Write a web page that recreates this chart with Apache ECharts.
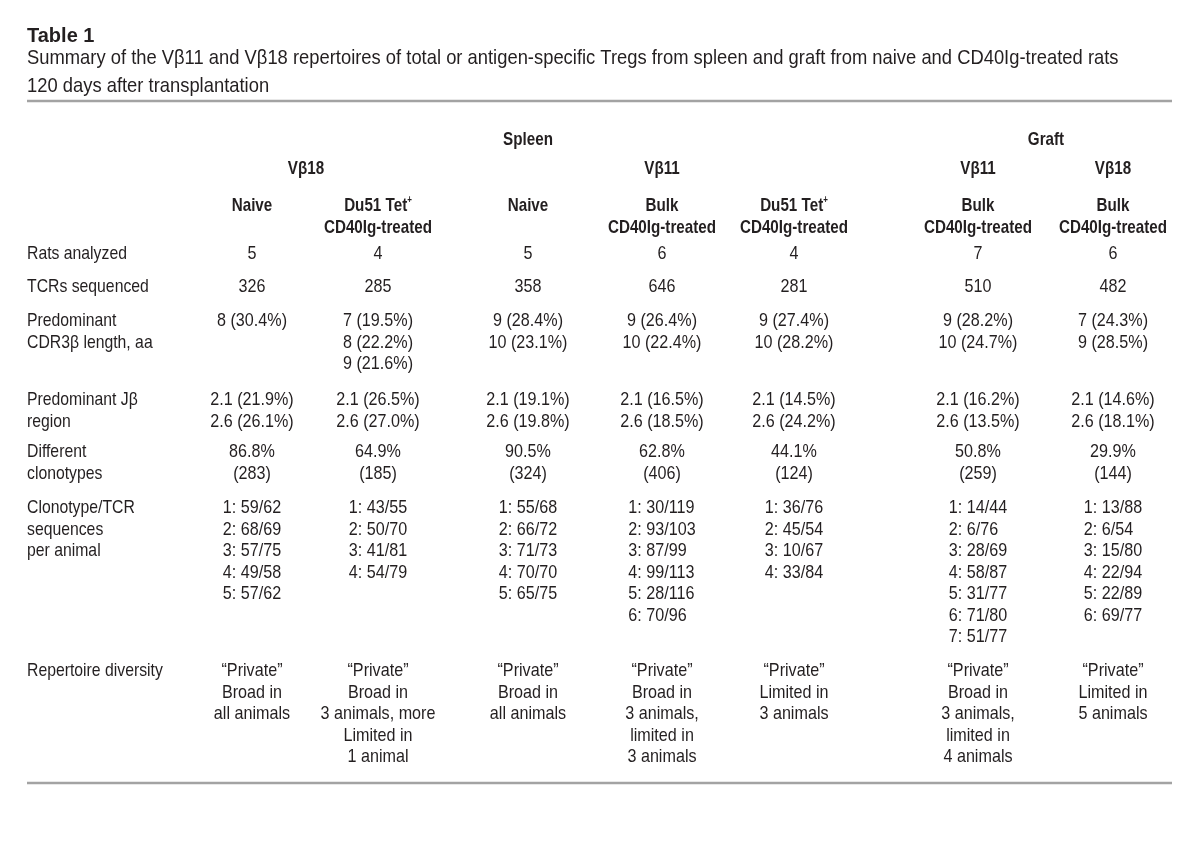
<!DOCTYPE html>
<html>
<head>
<meta charset="utf-8">
<script src="https://cdn.jsdelivr.net/npm/echarts@6/dist/echarts.min.js"></script>
<style>
html,body{margin:0;padding:0;background:#fff;}
#chart{width:1200px;height:843px;}
</style>
</head>
<body>
<div id="chart"></div>
<script>
// ---------- DATA ----------
const tableTitle = 'Table 1';
const subtitleLines = [
  'Summary of the Vβ11 and Vβ18 repertoires of total or antigen-specific Tregs from spleen and graft from naive and CD40Ig-treated rats',
  '120 days after transplantation'
];
const tissueGroups = ['Spleen', 'Graft'];
const vbetaGroups = ['Vβ18', 'Vβ11', 'Vβ11', 'Vβ18'];
const colHeaders = [
  ['Naive'],
  ['Du51 Tet+', 'CD40Ig-treated'],
  ['Naive'],
  ['Bulk', 'CD40Ig-treated'],
  ['Du51 Tet+', 'CD40Ig-treated'],
  ['Bulk', 'CD40Ig-treated'],
  ['Bulk', 'CD40Ig-treated']
];
const rowLabels = [
  ['Rats analyzed'],
  ['TCRs sequenced'],
  ['Predominant', 'CDR3β length, aa'],
  ['Predominant Jβ', 'region'],
  ['Different', 'clonotypes'],
  ['Clonotype/TCR', 'sequences', 'per animal'],
  ['Repertoire diversity']
];
const ratsAnalyzed = [5, 4, 5, 6, 4, 7, 6];
const tcrsSequenced = [326, 285, 358, 646, 281, 510, 482];
const cdr3Length = [
  ['8 (30.4%)'],
  ['7 (19.5%)', '8 (22.2%)', '9 (21.6%)'],
  ['9 (28.4%)', '10 (23.1%)'],
  ['9 (26.4%)', '10 (22.4%)'],
  ['9 (27.4%)', '10 (28.2%)'],
  ['9 (28.2%)', '10 (24.7%)'],
  ['7 (24.3%)', '9 (28.5%)']
];
const jbRegion = [
  ['2.1 (21.9%)', '2.6 (26.1%)'],
  ['2.1 (26.5%)', '2.6 (27.0%)'],
  ['2.1 (19.1%)', '2.6 (19.8%)'],
  ['2.1 (16.5%)', '2.6 (18.5%)'],
  ['2.1 (14.5%)', '2.6 (24.2%)'],
  ['2.1 (16.2%)', '2.6 (13.5%)'],
  ['2.1 (14.6%)', '2.6 (18.1%)']
];
const diffClonotypePct = ['86.8', '64.9', '90.5', '62.8', '44.1', '50.8', '29.9'];
const diffClonotypeCount = [283, 185, 324, 406, 124, 259, 144];
const clonotypePerAnimal = [
  ['1: 59/62', '2: 68/69', '3: 57/75', '4: 49/58', '5: 57/62'],
  ['1: 43/55', '2: 50/70', '3: 41/81', '4: 54/79'],
  ['1: 55/68', '2: 66/72', '3: 71/73', '4: 70/70', '5: 65/75'],
  ['1: 30/119', '2: 93/103', '3: 87/99', '4: 99/113', '5: 28/116', '6: 70/96'],
  ['1: 36/76', '2: 45/54', '3: 10/67', '4: 33/84'],
  ['1: 14/44', '2: 6/76', '3: 28/69', '4: 58/87', '5: 31/77', '6: 71/80', '7: 51/77'],
  ['1: 13/88', '2: 6/54', '3: 15/80', '4: 22/94', '5: 22/89', '6: 69/77']
];
const repertoireDiversity = [
  ['“Private”', 'Broad in', 'all animals'],
  ['“Private”', 'Broad in', '3 animals, more', 'Limited in', '1 animal'],
  ['“Private”', 'Broad in', 'all animals'],
  ['“Private”', 'Broad in', '3 animals,', 'limited in', '3 animals'],
  ['“Private”', 'Limited in', '3 animals'],
  ['“Private”', 'Broad in', '3 animals,', 'limited in', '4 animals'],
  ['“Private”', 'Limited in', '5 animals']
];

// ---------- LAYOUT (positions in page units) ----------
const LEFT = 27, RIGHT = 1172;
const colX = [252, 378, 528, 662, 794, 978, 1113];
const tissueX = [528, 1046];
const vbetaX = [306, 662, 978, 1113];
const titleY = 36, subY = [58, 86];
const ruleY = [101, 783];
const tissueY = 140, vbetaY = 169, headY = 206;
const rowY = [254, 287, 321, 400, 452, 508, 671];
const LH = 21.5;

const SANS = "'Liberation Sans', Arial, sans-serif";
const INK = '#231f20';
const styles = {
  title: { scaleX: 1, style: { font: "bold 20px " + SANS, fill: INK, align: 'left', verticalAlign: 'middle' } },
  sub:   { scaleX: 0.875, style: { font: "21px " + SANS, fill: INK, align: 'left', verticalAlign: 'middle' } },
  head:  { scaleX: 0.8, style: { font: "bold 19px " + SANS, fill: INK, align: 'center', verticalAlign: 'top', lineHeight: LH,
           rich: { sup: { font: "bold 10px " + SANS, fill: INK, verticalAlign: 'top', lineHeight: 17 } } } },
  label: { scaleX: 0.83, style: { font: "19px " + SANS, fill: INK, align: 'left', verticalAlign: 'top', lineHeight: LH } },
  cell:  { scaleX: 0.85, style: { font: "19px " + SANS, fill: INK, align: 'center', verticalAlign: 'top', lineHeight: LH } },
  list:  { scaleX: 0.85, style: { font: "19px " + SANS, fill: INK, align: 'center', verticalAlign: 'top', lineHeight: LH,
           rich: { l: { font: "19px " + SANS, fill: INK, align: 'left', lineHeight: LH } } } }
};

// ---------- BUILD TEXT ITEMS ----------
const items = [];
function add(x, yCenter, lines, kind) {
  const top = (kind === 'title' || kind === 'sub') ? yCenter : yCenter - LH / 2;
  items.push({ value: [x, top], text: lines, kind: kind });
}
add(LEFT, titleY, tableTitle, 'title');
subtitleLines.forEach((s, i) => add(LEFT, subY[i], s, 'sub'));
tissueGroups.forEach((t, i) => add(tissueX[i], tissueY, t, 'head'));
vbetaGroups.forEach((t, i) => add(vbetaX[i], vbetaY, t, 'head'));
colHeaders.forEach((h, i) => add(colX[i], headY,
  h.map(l => l.replace('Tet+', 'Tet{sup|+}')).join('\n'), 'head'));
rowLabels.forEach((r, i) => add(LEFT, rowY[i], r.join('\n'), 'label'));
colX.forEach((x, c) => {
  add(x, rowY[0], String(ratsAnalyzed[c]), 'cell');
  add(x, rowY[1], String(tcrsSequenced[c]), 'cell');
  add(x, rowY[2], cdr3Length[c].join('\n'), 'cell');
  add(x, rowY[3], jbRegion[c].join('\n'), 'cell');
  add(x, rowY[4], diffClonotypePct[c] + '%\n(' + diffClonotypeCount[c] + ')', 'cell');
  add(x, rowY[5], clonotypePerAnimal[c].map(s => '{l|' + s + '}').join('\n'), 'list');
  add(x, rowY[6], repertoireDiversity[c].join('\n'), 'cell');
});

const rules = ruleY.map(y => ({ value: [LEFT, y, RIGHT] }));

// ---------- CHART ----------
const chart = echarts.init(document.getElementById('chart'), null, { renderer: 'canvas' });
chart.setOption({
  animation: false,
  backgroundColor: '#ffffff',
  grid: { left: 0, right: 0, top: 0, bottom: 0 },
  xAxis: { type: 'value', min: 0, max: 1200, show: false },
  yAxis: { type: 'value', min: 0, max: 843, inverse: true, show: false },
  series: [
    {
      type: 'custom',
      silent: true,
      data: rules,
      renderItem: function (params, api) {
        const a = api.coord([api.value(0), api.value(1)]);
        const b = api.coord([api.value(2), api.value(1)]);
        return {
          type: 'line',
          shape: { x1: a[0], y1: a[1], x2: b[0], y2: b[1] },
          style: { stroke: '#a3a3a3', lineWidth: 2.5 }
        };
      }
    },
    {
      type: 'custom',
      silent: true,
      data: items.map(it => ({ value: it.value })),
      renderItem: function (params, api) {
        const it = items[params.dataIndex];
        const p = api.coord([api.value(0), api.value(1)]);
        const s = styles[it.kind];
        return {
          type: 'text',
          x: p[0], y: p[1],
          scaleX: s.scaleX, scaleY: 1,
          style: Object.assign({ text: it.text }, s.style)
        };
      }
    }
  ]
});
</script>
</body>
</html>
